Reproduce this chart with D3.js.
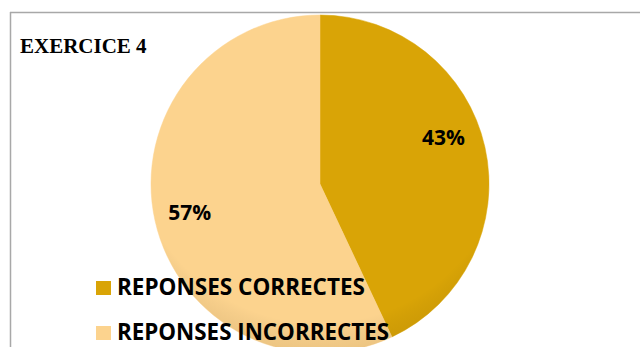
<!DOCTYPE html>
<html><head><meta charset="utf-8">
<script src="https://cdn.jsdelivr.net/npm/d3@7"></script>
<style>html,body{margin:0;padding:0;background:#fff;overflow:hidden}</style>
</head><body><svg id="c" width="640" height="347"></svg>
<script>
const categories = ["REPONSES CORRECTES", "REPONSES INCORRECTES"];
const values = [43, 57];
const labels = ["43%", "57%"];
const colors = ["#D9A406", "#FCD38E"];
const title = "EXERCICE 4";

const svg = d3.select("#c");
// frame
svg.append("line").attr("x1",10).attr("x2",640).attr("y1",12.5).attr("y2",12.5).attr("stroke","#a8a8a8").attr("stroke-width",1.5);
svg.append("line").attr("x1",10.5).attr("x2",10.5).attr("y1",12).attr("y2",347).attr("stroke","#a8a8a8").attr("stroke-width",1.5);

const cx = 320, cy = 184, r = 169;
const pie = d3.pie().sort(null).value(d => d)(values);
const arc = d3.arc().innerRadius(0).outerRadius(r);
const g = svg.append("g").attr("transform", `translate(${cx},${cy})`);

const defs = svg.append("defs");
const grad = defs.append("radialGradient").attr("id","shade").attr("cx","50%").attr("cy","35%").attr("r","66%");
grad.append("stop").attr("offset","85%").attr("stop-color","#000").attr("stop-opacity",0);
grad.append("stop").attr("offset","100%").attr("stop-color","#5a3a00").attr("stop-opacity",0.1);

g.selectAll("path.s").data(pie).enter().append("path").attr("class","s")
  .attr("d", arc).attr("fill", (d,i) => colors[i]).attr("stroke", (d,i)=>colors[i]).attr("stroke-width",0.5);
g.append("circle").attr("r", r).attr("fill","url(#shade)");

// label placement: angle shift (rad) and radius factor per slice
const labelAdj = [[-0.14, 0.78], [0, 0.79]];
g.selectAll("text.p").data(pie).enter().append("text").attr("class","p")
  .each(function(d,i){
    const a = (d.startAngle + d.endAngle)/2 + labelAdj[i][0];
    const rr = r*labelAdj[i][1];
    d3.select(this).attr("x", rr*Math.sin(a)).attr("y", -rr*Math.cos(a) + 7);
  })
  .attr("text-anchor","middle")
  .attr("font-family","'Open Sans', sans-serif").attr("font-weight","bold").attr("font-size",21)
  .attr("fill","#000").text((d,i)=>labels[i]);

svg.append("text").attr("x",20).attr("y",53).attr("font-family","'Liberation Serif', 'Times New Roman', serif")
  .attr("font-weight","bold").attr("font-size",21).attr("fill","#000").text(title);

const leg = svg.append("g");
categories.forEach((c,i) => {
  const y = 295 + i*45;
  leg.append("rect").attr("x",96).attr("y",y-14).attr("width",15).attr("height",14).attr("fill",colors[i]);
  leg.append("text").attr("x",117).attr("y",y).attr("font-family","'Open Sans', sans-serif")
    .attr("font-weight","bold").attr("font-size",23).attr("fill","#000")
    .attr("textLength", i===0 ? 248 : 272).attr("lengthAdjust","spacingAndGlyphs").text(c);
});
</script></body></html>
